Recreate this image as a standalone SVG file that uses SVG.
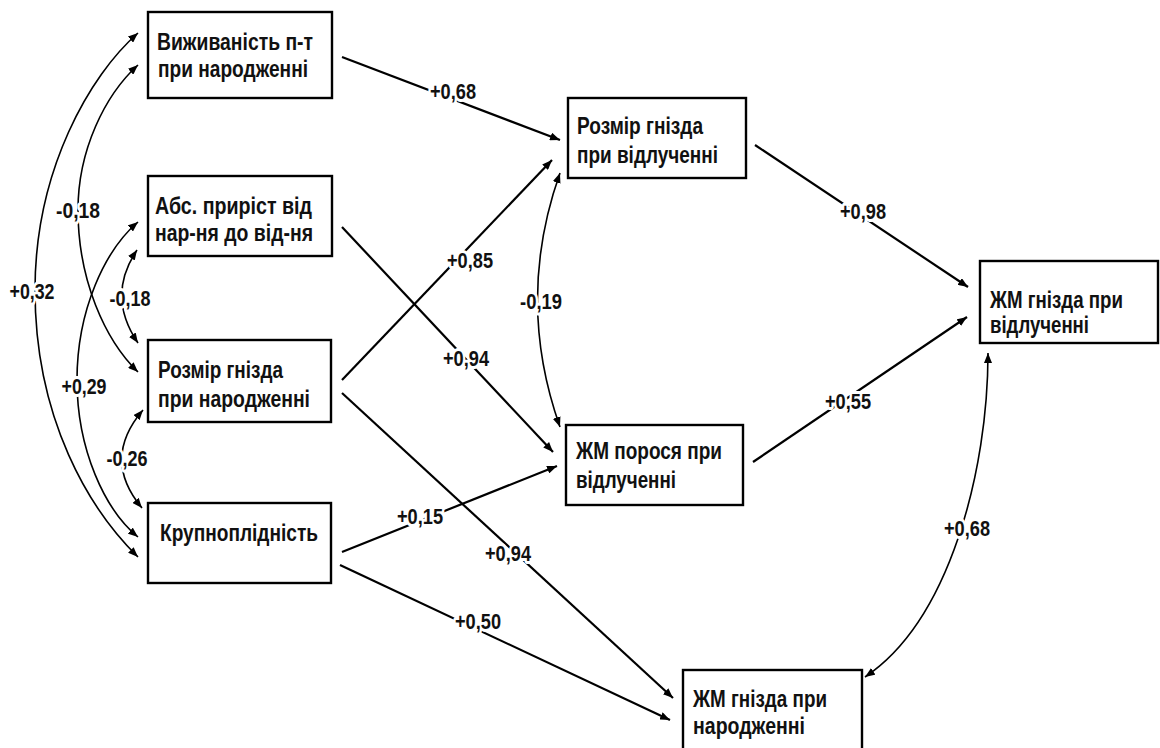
<svg xmlns="http://www.w3.org/2000/svg" width="1160" height="748" viewBox="0 0 1160 748">
<style>
.box{fill:#fff;stroke:#000;stroke-width:2.4}
.t{font-family:"Liberation Sans Narrow","Liberation Sans",Arial,sans-serif;font-weight:bold;font-size:23.5px;fill:#111}
.c{fill:none;stroke:#000;stroke-width:2.2}
.cv{fill:none;stroke:#000;stroke-width:1.6}
.l{font-family:"Liberation Sans Narrow","Liberation Sans",Arial,sans-serif;font-weight:bold;font-size:22.5px;fill:#111;text-anchor:middle;stroke:#fff;stroke-width:6;stroke-linejoin:round;paint-order:stroke}
</style>
<defs>
<marker id="ah" markerUnits="userSpaceOnUse" markerWidth="11" markerHeight="8" refX="10" refY="4" orient="auto-start-reverse">
<path d="M0,0 L10,4 L0,8 z" fill="#000"/>
</marker>
</defs>
<rect width="1160" height="748" fill="#fff"/>
<g id="connectors">
<line class="c" x1="342" y1="57" x2="560" y2="140" marker-end="url(#ah)"/>
<line class="c" x1="342" y1="227" x2="553" y2="452" marker-end="url(#ah)"/>
<line class="c" x1="342" y1="380" x2="552" y2="160" marker-end="url(#ah)"/>
<line class="c" x1="342" y1="393" x2="673" y2="698" marker-end="url(#ah)"/>
<line class="c" x1="342" y1="552" x2="557" y2="466" marker-end="url(#ah)"/>
<line class="c" x1="340" y1="565" x2="670" y2="720" marker-end="url(#ah)"/>
<line class="c" x1="755" y1="145" x2="968" y2="287" marker-end="url(#ah)"/>
<line class="c" x1="753" y1="462" x2="967" y2="317" marker-end="url(#ah)"/>
<path class="cv" d="M560,173 Q515,300 560,427" marker-start="url(#ah)" marker-end="url(#ah)"/>
<path class="cv" d="M988,353 C988,470 950,620 865,677" marker-start="url(#ah)" marker-end="url(#ah)"/>
<path class="cv" d="M138,33 C90,75 35,170 35,290 C35,420 90,510 138,557" marker-start="url(#ah)" marker-end="url(#ah)"/>
<path class="cv" d="M138,65 C105,95 78,150 78,210 C78,280 105,340 138,372" marker-start="url(#ah)" marker-end="url(#ah)"/>
<path class="cv" d="M138,222 C105,250 77,310 77,380 C77,450 105,510 138,537" marker-start="url(#ah)" marker-end="url(#ah)"/>
<path class="cv" d="M137,250 Q106,296 138,343" marker-start="url(#ah)" marker-end="url(#ah)"/>
<path class="cv" d="M143,410 Q101,459 142,508" marker-start="url(#ah)" marker-end="url(#ah)"/>
<g id="labels">
<text class="l" x="453" y="99" textLength="46" lengthAdjust="spacingAndGlyphs">+0,68</text>
<text class="l" x="470" y="268" textLength="46" lengthAdjust="spacingAndGlyphs">+0,85</text>
<text class="l" x="466" y="366" textLength="46" lengthAdjust="spacingAndGlyphs">+0,94</text>
<text class="l" x="541" y="309" textLength="42" lengthAdjust="spacingAndGlyphs">-0,19</text>
<text class="l" x="420" y="524" textLength="46" lengthAdjust="spacingAndGlyphs">+0,15</text>
<text class="l" x="508" y="561" textLength="46" lengthAdjust="spacingAndGlyphs">+0,94</text>
<text class="l" x="478" y="629" textLength="46" lengthAdjust="spacingAndGlyphs">+0,50</text>
<text class="l" x="863" y="219" textLength="46" lengthAdjust="spacingAndGlyphs">+0,98</text>
<text class="l" x="848" y="409" textLength="46" lengthAdjust="spacingAndGlyphs">+0,55</text>
<text class="l" x="967" y="536" textLength="46" lengthAdjust="spacingAndGlyphs">+0,68</text>
<text class="l" x="78" y="218" textLength="44" lengthAdjust="spacingAndGlyphs">-0,18</text>
<text class="l" x="32" y="299" textLength="45" lengthAdjust="spacingAndGlyphs">+0,32</text>
<text class="l" x="130" y="306" textLength="41" lengthAdjust="spacingAndGlyphs">-0,18</text>
<text class="l" x="84" y="394" textLength="45" lengthAdjust="spacingAndGlyphs">+0,29</text>
<text class="l" x="127" y="466" textLength="41" lengthAdjust="spacingAndGlyphs">-0,26</text>
</g>
</g>
<g id="n1">
<rect class="box" x="148" y="12" width="184" height="86"/>
<text class="t" x="157" y="50" textLength="156" lengthAdjust="spacingAndGlyphs">Виживаність п-т</text>
<text class="t" x="158" y="77" textLength="150" lengthAdjust="spacingAndGlyphs">при народженні</text>
</g>
<g id="n2">
<rect class="box" x="148" y="176" width="184" height="80"/>
<text class="t" x="155" y="214" textLength="157" lengthAdjust="spacingAndGlyphs">Абс. приріст від</text>
<text class="t" x="155" y="241" textLength="158" lengthAdjust="spacingAndGlyphs">нар-ня до від-ня</text>
</g>
<g id="n3">
<rect class="box" x="148" y="340" width="183" height="82"/>
<text class="t" x="158" y="378" textLength="125" lengthAdjust="spacingAndGlyphs">Розмір гнізда</text>
<text class="t" x="158" y="407" textLength="152" lengthAdjust="spacingAndGlyphs">при народженні</text>
</g>
<g id="n4">
<rect class="box" x="148" y="503" width="183" height="80"/>
<text class="t" x="160" y="541" textLength="158" lengthAdjust="spacingAndGlyphs">Крупноплідність</text>
</g>
<g id="n5">
<rect class="box" x="568" y="98" width="178" height="80"/>
<text class="t" x="577" y="134" textLength="126" lengthAdjust="spacingAndGlyphs">Розмір гнізда</text>
<text class="t" x="577" y="163" textLength="141" lengthAdjust="spacingAndGlyphs">при відлученні</text>
</g>
<g id="n6">
<rect class="box" x="566" y="425" width="177" height="80"/>
<text class="t" x="576" y="459" textLength="146" lengthAdjust="spacingAndGlyphs">ЖМ порося при</text>
<text class="t" x="576" y="488" textLength="100" lengthAdjust="spacingAndGlyphs">відлученні</text>
</g>
<g id="n7">
<rect class="box" x="980" y="261" width="178" height="82"/>
<text class="t" x="990" y="308" textLength="133" lengthAdjust="spacingAndGlyphs">ЖМ гнізда при</text>
<text class="t" x="990" y="333" textLength="99" lengthAdjust="spacingAndGlyphs">відлученні</text>
</g>
<g id="n8">
<rect class="box" x="683" y="670" width="179" height="92"/>
<text class="t" x="693" y="707" textLength="134" lengthAdjust="spacingAndGlyphs">ЖМ гнізда при</text>
<text class="t" x="693" y="734" textLength="112" lengthAdjust="spacingAndGlyphs">народженні</text>
</g>
</svg>
